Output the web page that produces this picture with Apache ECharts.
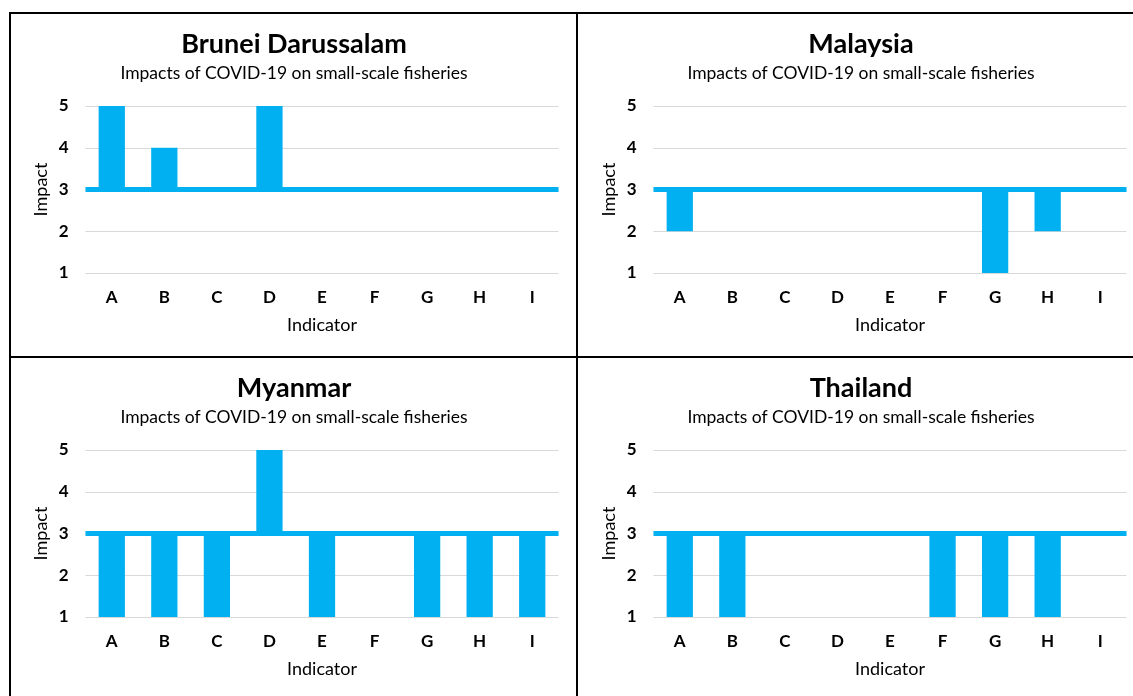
<!DOCTYPE html>
<html>
<head>
<meta charset="utf-8">
<script src="https://cdn.jsdelivr.net/npm/echarts@6/dist/echarts.min.js"></script>
<style>
html,body{margin:0;padding:0;background:#fff;}
#c{width:1133px;height:696px;}
</style>
</head>
<body>
<div id="c"></div>
<script>
const categories = ['A','B','C','D','E','F','G','H','I'];
const countries = ['Brunei Darussalam','Malaysia','Myanmar','Thailand'];
const subtitle = 'Impacts of COVID-19 on small-scale fisheries';
const yTicks = [1,2,3,4,5];
const baseline = 3;
const brunei   = [5,4,3,5,3,3,3,3,3];
const malaysia = [2,3,3,3,3,3,1,2,3];
const myanmar  = [1,1,1,5,1,3,1,1,1];
const thailand = [1,1,3,3,3,1,1,1,3];
const seriesData = [brunei, malaysia, myanmar, thailand];

const FONT = 'Lato';
const COLOR = '#00B0F0';
const panels = [
  {left: 85.5, top: 106, cx: 289},
  {left: 653.5, top: 106, cx: 856},
  {left: 85.5, top: 450, cx: 289},
  {left: 653.5, top: 450, cx: 856}
];
const GW = 473, GH = 167;

const titles = [], grids = [], xAxes = [], yAxes = [], series = [];
panels.forEach((p, i) => {
  titles.push({
    text: countries[i], left: p.cx, top: p.top - 80, textAlign: 'center',
    textStyle: {fontFamily: FONT, fontWeight: 'bold', fontSize: 27, color: '#000'}
  });
  titles.push({
    text: subtitle, left: p.cx, top: p.top - 47, textAlign: 'center',
    textStyle: {fontFamily: FONT, fontWeight: 'normal', fontSize: 17.5, color: '#000'}
  });
  grids.push({left: p.left, top: p.top, width: GW, height: GH});
  xAxes.push({
    type: 'category', gridIndex: i, data: categories,
    axisLine: {show: false}, axisTick: {show: false},
    axisLabel: {fontFamily: FONT, fontWeight: 'bold', fontSize: 17, color: '#000', margin: 16},
    name: 'Indicator', nameLocation: 'middle', nameGap: 43,
    nameTextStyle: {fontFamily: FONT, fontSize: 18, color: '#000'}
  });
  yAxes.push({
    type: 'value', gridIndex: i, min: yTicks[0], max: yTicks[yTicks.length-1], interval: 1,
    axisLine: {show: false}, axisTick: {show: false},
    axisLabel: {fontFamily: FONT, fontWeight: 'bold', fontSize: 17, color: '#000', margin: 17},
    splitLine: {lineStyle: {color: '#d9d9d9', width: 1}},
    name: 'Impact', nameLocation: 'middle', nameGap: 35,
    nameTextStyle: {fontFamily: FONT, fontSize: 18, color: '#000'}
  });
  const vals = seriesData[i];
  series.push({
    type: 'bar', xAxisIndex: i, yAxisIndex: i, stack: 's' + i,
    data: vals.map(v => Math.min(v, baseline)),
    itemStyle: {color: 'transparent'}, barWidth: '50%', silent: true
  });
  series.push({
    type: 'bar', xAxisIndex: i, yAxisIndex: i, stack: 's' + i,
    data: vals.map(v => Math.abs(v - baseline)),
    itemStyle: {color: COLOR}, barWidth: '50%',
    markLine: {
      silent: true, symbol: 'none', label: {show: false},
      lineStyle: {color: COLOR, width: 5, type: 'solid'},
      data: [{yAxis: baseline}]
    }
  });
});

const border = {stroke: '#000', lineWidth: 2};
const chart = echarts.init(document.getElementById('c'));
chart.setOption({
  animation: false,
  backgroundColor: '#fff',
  title: titles, grid: grids, xAxis: xAxes, yAxis: yAxes, series: series,
  graphic: [
    {type: 'line', shape: {x1: 9, y1: 13, x2: 1133, y2: 13}, style: border, z: 10},
    {type: 'line', shape: {x1: 10, y1: 12, x2: 10, y2: 696}, style: border, z: 10},
    {type: 'line', shape: {x1: 577, y1: 12, x2: 577, y2: 696}, style: border, z: 10},
    {type: 'line', shape: {x1: 9, y1: 357, x2: 1133, y2: 357}, style: border, z: 10}
  ]
});
</script>
</body>
</html>
